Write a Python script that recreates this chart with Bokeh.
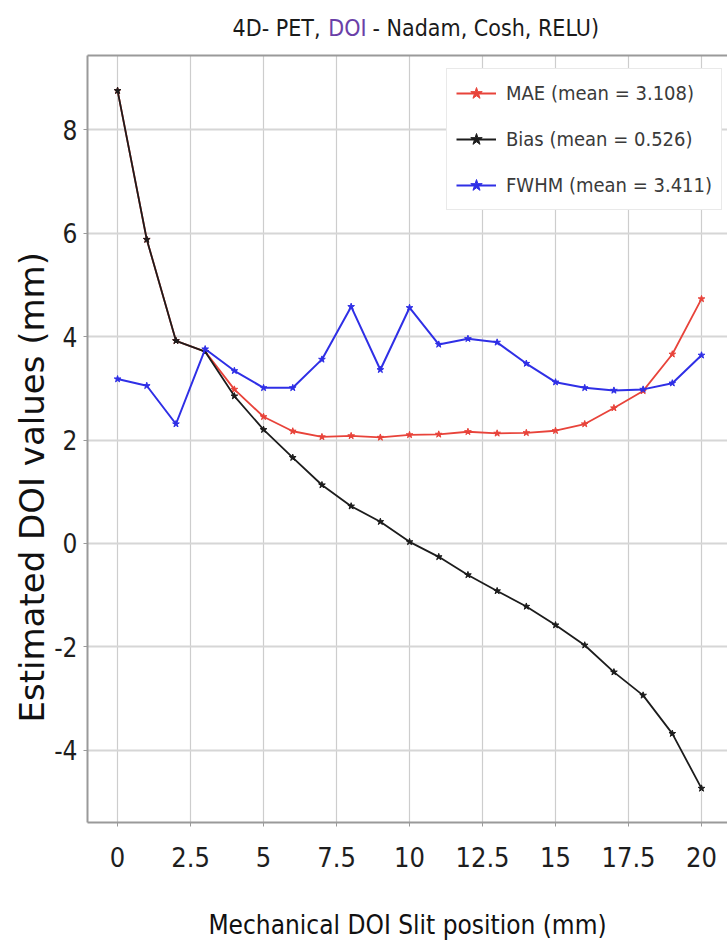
from bokeh.plotting import figure
from bokeh.layouts import column
from bokeh.models import Range1d, FixedTicker, Legend, LegendItem, LinearAxis, Title
from bokeh.core.properties import value
from bokeh.embed import file_html
from bokeh.resources import INLINE

# Mechanical DOI slit positions (mm) and the estimated DOI metrics (mm)
slit_mm = list(range(21))
mae = [8.76, 5.88, 3.92, 3.71, 2.98, 2.45, 2.17, 2.06, 2.08, 2.05, 2.10,
       2.11, 2.16, 2.13, 2.14, 2.18, 2.31, 2.62, 2.95, 3.66, 4.73]
bias = [8.76, 5.88, 3.92, 3.71, 2.85, 2.20, 1.66, 1.13, 0.72, 0.42, 0.03,
        -0.26, -0.61, -0.92, -1.22, -1.58, -1.97, -2.49, -2.94, -3.68, -4.74]
fwhm = [3.18, 3.05, 2.31, 3.76, 3.34, 3.01, 3.01, 3.56, 4.58, 3.36, 4.56,
        3.85, 3.96, 3.89, 3.48, 3.12, 3.01, 2.96, 2.98, 3.10, 3.64]

series_names = ["MAE (mean = 3.108)", "Bias (mean = 0.526)", "FWHM (mean = 3.411)"]
series_colors = ["#e8433a", "#1c1c1c", "#2f2fe6"]

x_ticks = [0, 2.5, 5, 7.5, 10, 12.5, 15, 17.5, 20]
x_tick_labels = ["0", "2.5", "5", "7.5", "10", "12.5", "15", "17.5", "20"]
y_ticks = [-4, -2, 0, 2, 4, 6, 8]
y_tick_labels = ["-4", "-2", "0", "2", "4", "6", "8"]

title_parts = ["4D- PET,", "DOI", "- Nadam, Cosh, RELU)"]
title_colors = ["#1a1a1a", "#6b3fa8", "#1a1a1a"]

COND = "DejaVu Sans Condensed, Roboto"
W = 727
LEFT = 87
TITLE_H = 52
MAIN_H = 949 - TITLE_H

# ---- title strip (its own small figure so "DOI" can carry its colour) ----
# the column aligns this strip's frame with the chart frame, so its x range
# runs in page pixels from the chart's left border to the right edge
t = figure(width=W, height=TITLE_H, output_backend="svg", toolbar_location=None,
           x_range=Range1d(LEFT, W), y_range=Range1d(0, TITLE_H),
           x_axis_type=None, y_axis_type=None,
           min_border_left=LEFT, min_border_right=0,
           min_border_top=0, min_border_bottom=0)
t.grid.visible = False
t.outline_line_color = None
common = dict(text_font=value(COND), text_font_size="23px", text_baseline="middle")
t.text(x=[320], y=[25], text=[title_parts[0]], text_color=title_colors[0],
       text_align="right", **common)
t.text(x=[347], y=[25], text=[title_parts[1]], text_color=title_colors[1],
       text_align="center", **common)
t.text(x=[372], y=[25], text=[title_parts[2]], text_color=title_colors[2],
       text_align="left", **common)

# ---- main chart ----
p = figure(width=W, height=MAIN_H, output_backend="svg", toolbar_location=None,
           x_range=Range1d(-1.03, 20.89), y_range=Range1d(-5.40, 9.44),
           min_border_left=LEFT, min_border_right=0,
           min_border_top=3, min_border_bottom=127)
p.outline_line_color = None

p.xgrid.grid_line_color = "#cdcdcd"
p.xgrid.grid_line_width = 1.2
p.ygrid.grid_line_color = "#d6d6d6"
p.ygrid.grid_line_width = 2

p.xaxis.ticker = FixedTicker(ticks=x_ticks)
p.xaxis.major_label_overrides = dict(zip(x_ticks, x_tick_labels))
p.yaxis.ticker = FixedTicker(ticks=y_ticks)
p.yaxis.major_label_overrides = dict(zip(y_ticks, y_tick_labels))
for ax in (p.xaxis, p.yaxis):
    ax.axis_line_color = "#9a9a9a"
    ax.axis_line_width = 2
    ax.major_tick_line_color = "#9a9a9a"
    ax.major_tick_out = 4
    ax.major_tick_in = 0
    ax.minor_tick_line_color = None
    ax.major_label_text_font = COND
    ax.major_label_text_color = "#1e1e1e"

p.xaxis.major_label_text_font_size = "27px"
p.yaxis.major_label_text_font_size = "26px"

p.xaxis.major_label_standoff = 20
p.xaxis.axis_label = "Mechanical DOI Slit position (mm)"
p.xaxis.axis_label_text_font = COND
p.xaxis.axis_label_text_font_size = "26px"
p.xaxis.axis_label_text_font_style = "normal"
p.xaxis.axis_label_text_color = "#111111"
p.xaxis.axis_label_standoff = 40

p.yaxis.major_label_standoff = 6

# y-axis title placed as a side title so it can sit a little below centre
p.add_layout(Title(text="Estimated DOI values (mm)", align="left", offset=100,
                   text_font="DejaVu Sans", text_font_size="34px",
                   text_font_style="normal", text_color="#111111", standoff=0),
             "left")

# top frame line
p.add_layout(LinearAxis(ticker=FixedTicker(ticks=[]), axis_line_color="#9a9a9a",
                        axis_line_width=2, major_tick_line_color=None,
                        minor_tick_line_color=None), "above")

items = []
for vals, name, color, lw in zip([mae, bias, fwhm], series_names, series_colors,
                                 [1.8, 1.8, 2.0]):
    ln = p.line(slit_mm, vals, line_color=color, line_width=lw)
    sc = p.scatter(slit_mm, vals, marker="star", size=7, fill_color=color,
                   line_color=color)
    items.append(LegendItem(label=name, renderers=[ln, sc]))

legend = Legend(items=items, location=(359, 612),
                label_text_font=COND, label_text_font_size="20px",
                label_text_color="#3a3a3a",
                glyph_width=40, glyph_height=30, label_height=30,
                label_standoff=10, spacing=16, padding=9, margin=0,
                border_line_color="#d4d4d4", border_line_width=1.5,
                background_fill_color="white", background_fill_alpha=1.0)
p.add_layout(legend, "center")

open("out.html", "w").write(file_html(column(t, p, spacing=0), INLINE))
